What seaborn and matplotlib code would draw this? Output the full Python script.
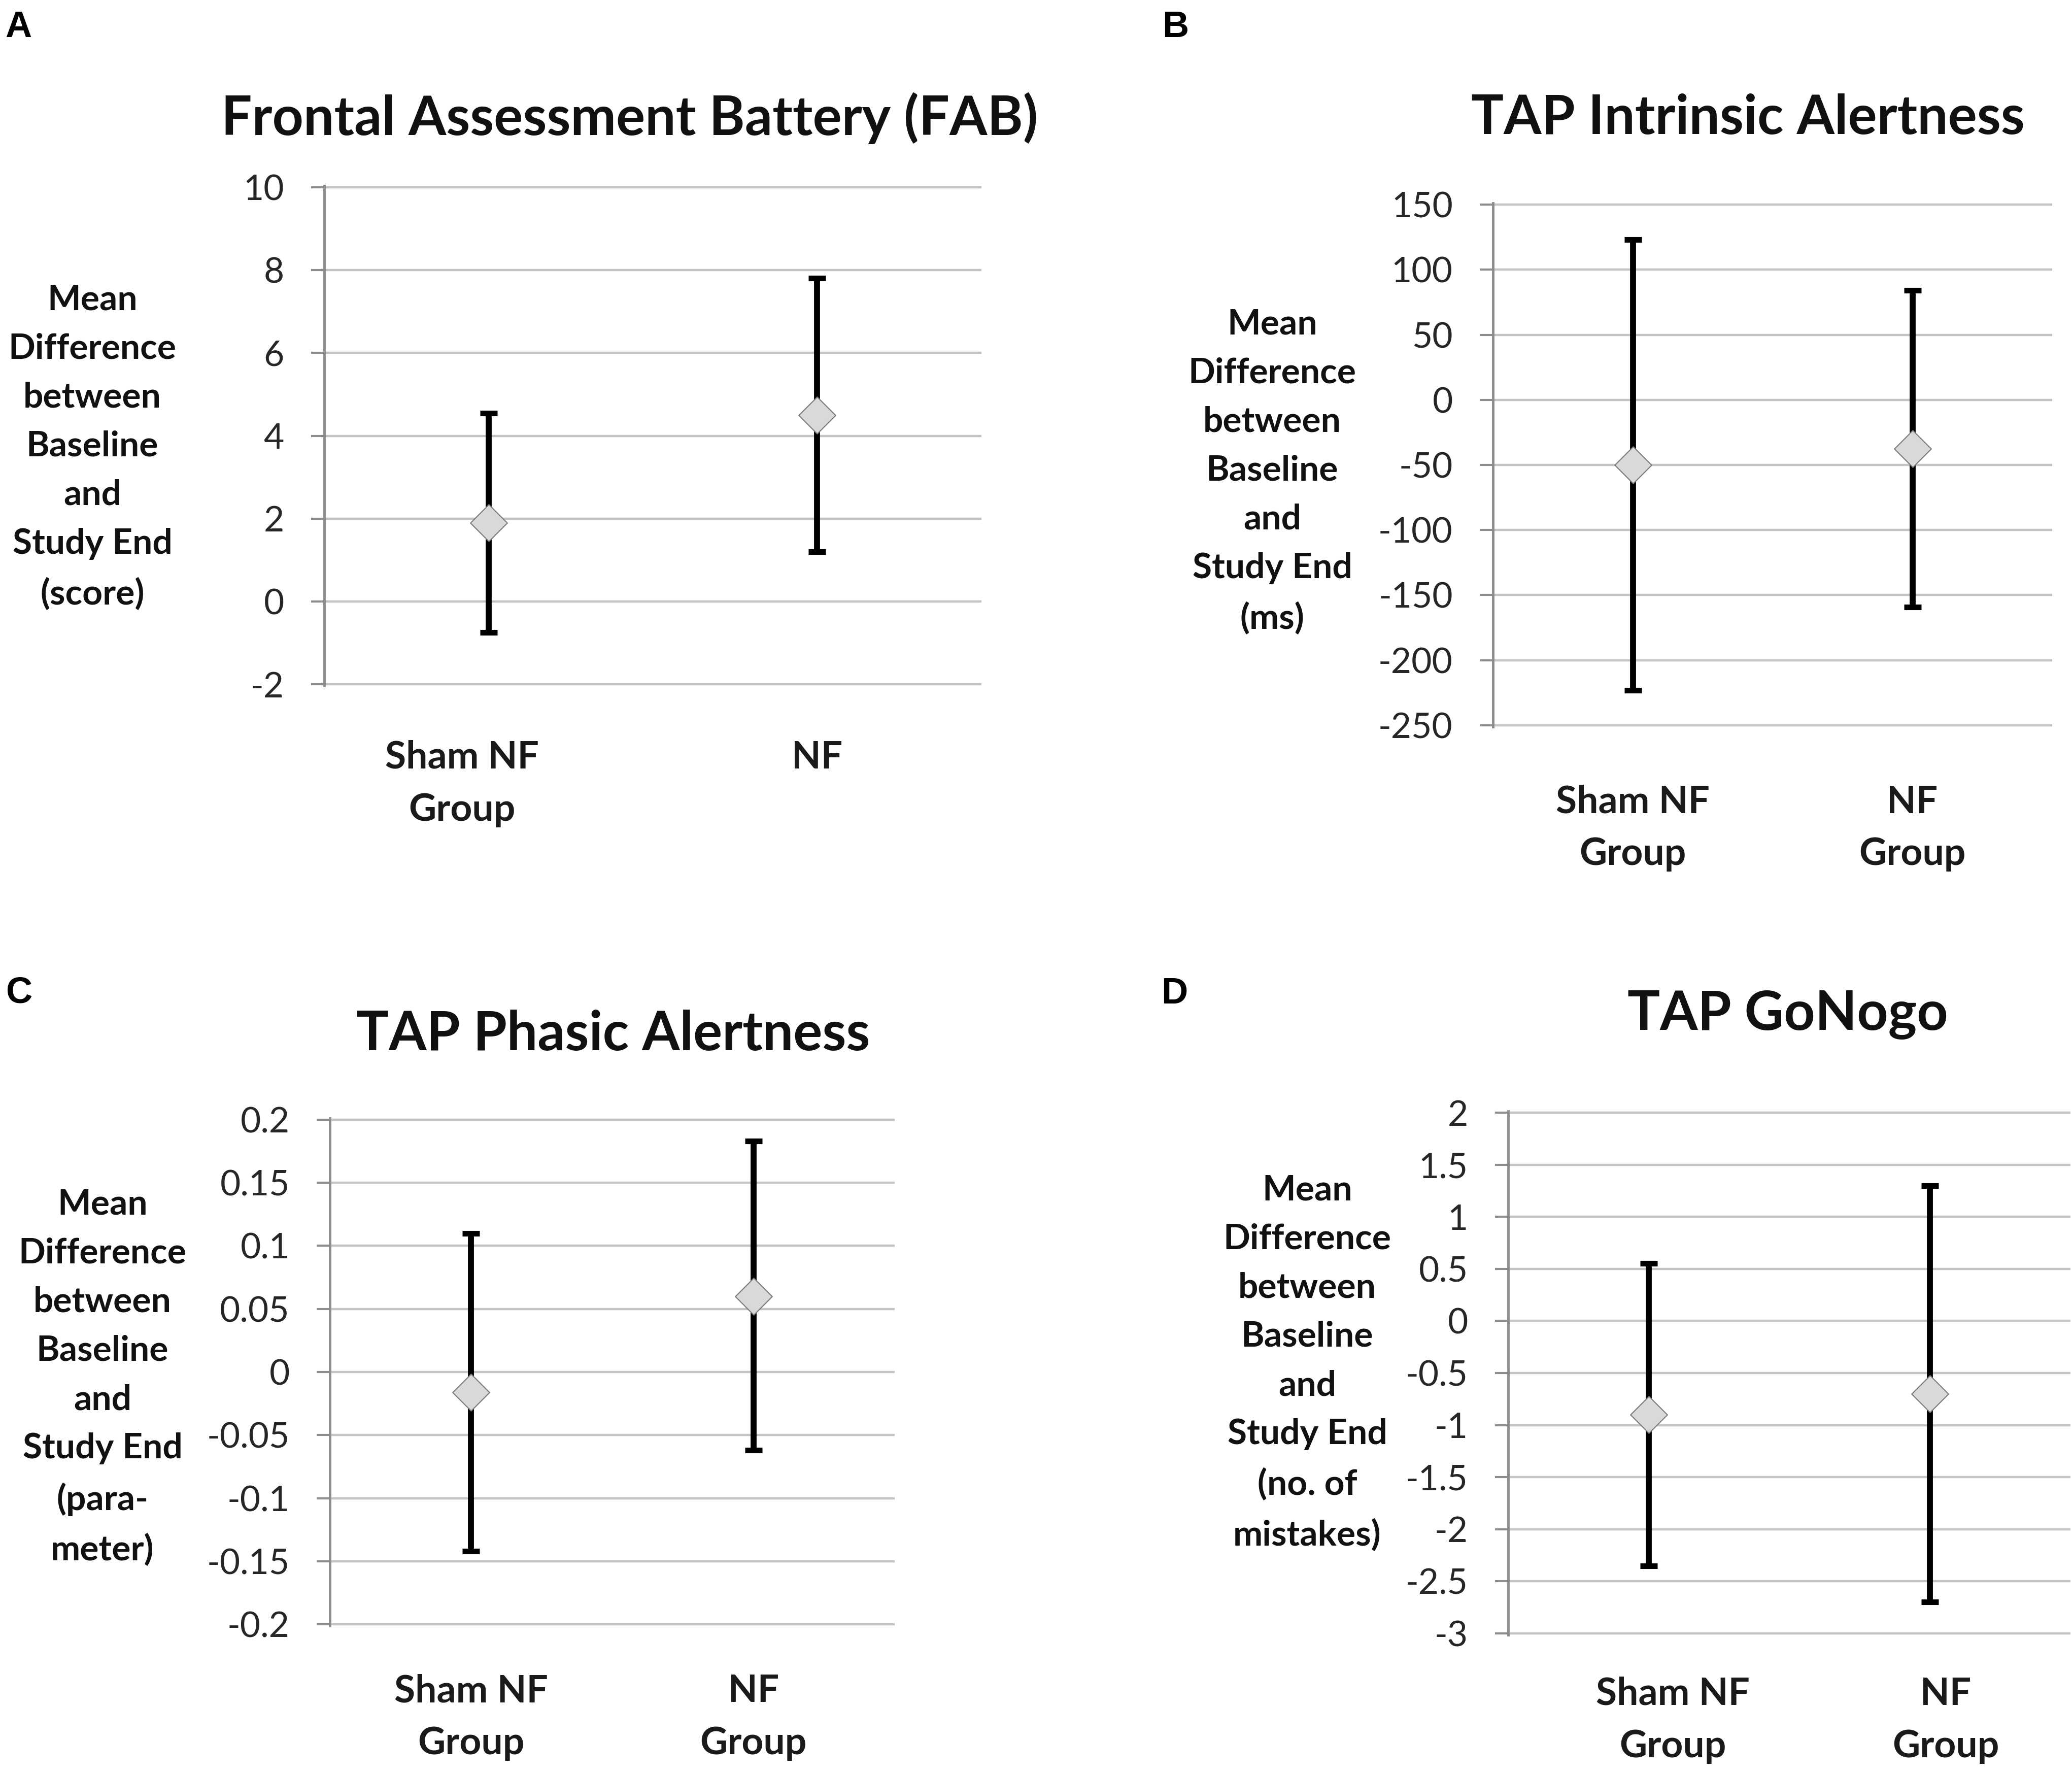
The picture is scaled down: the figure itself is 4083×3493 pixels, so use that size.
import numpy as np
import pandas as pd
import matplotlib
matplotlib.use('Agg')
import matplotlib.pyplot as plt
import seaborn as sns

sns.set_theme(style='white')
plt.rcParams['font.family'] = ['Lato', 'DejaVu Sans']
plt.rcParams['axes.unicode_minus'] = False

# data: mean difference and error-bar ends
groups_a = ['Sham NF\nGroup', 'NF']
means_a = [1.9, 4.5]
upper_a = [4.55, 7.8]
lower_a = [-0.75, 1.2]
yticks_a = [-2, 0, 2, 4, 6, 8, 10]
ylabels_a = ['-2', '0', '2', '4', '6', '8', '10']

groups_b = ['Sham NF\nGroup', 'NF\nGroup']
means_b = [-50, -37.5]
upper_b = [123, 84]
lower_b = [-223, -159]
yticks_b = [-250, -200, -150, -100, -50, 0, 50, 100, 150]
ylabels_b = ['-250', '-200', '-150', '-100', '-50', '0', '50', '100', '150']

groups_c = ['Sham NF\nGroup', 'NF\nGroup']
means_c = [-0.016, 0.06]
upper_c = [0.11, 0.183]
lower_c = [-0.142, -0.062]
yticks_c = [-0.2, -0.15, -0.1, -0.05, 0, 0.05, 0.1, 0.15, 0.2]
ylabels_c = ['-0.2', '-0.15', '-0.1', '-0.05', '0', '0.05', '0.1', '0.15', '0.2']

groups_d = ['Sham NF\nGroup', 'NF\nGroup']
means_d = [-0.9, -0.7]
upper_d = [0.555, 1.3]
lower_d = [-2.35, -2.7]
yticks_d = [-3, -2.5, -2, -1.5, -1, -0.5, 0, 0.5, 1, 1.5, 2]
ylabels_d = ['-3', '-2.5', '-2', '-1.5', '-1', '-0.5', '0', '0.5', '1', '1.5', '2']

W, H = 4083, 3493
fig = plt.figure(figsize=(W / 100, H / 100), dpi=100)

def px(x0, y0, x1, y1):
    # pixel box -> figure rect
    return [x0 / W, 1 - y1 / H, (x1 - x0) / W, (y1 - y0) / H]

panels = [
    dict(letter='A', lpos=(10, 73), box=(639, 366, 1934, 1351),
         title='Frontal Assessment Battery (FAB)', tpos=(1241, 266),
         ylab='Mean\nDifference\nbetween\nBaseline\nand\nStudy End\n(score)', ypos=(182, 881),
         groups=groups_a, means=means_a, upper=upper_a, lower=lower_a,
         yticks=yticks_a, ylabels=ylabels_a, xpad=77, xshift=[-52, 0]),
    dict(letter='B', lpos=(2290, 73), box=(2942, 400, 4044, 1432),
         title='TAP Intrinsic Alertness', tpos=(3444, 264),
         ylab='Mean\nDifference\nbetween\nBaseline\nand\nStudy End\n(ms)', ypos=(2507, 929),
         groups=groups_b, means=means_b, upper=upper_b, lower=lower_b,
         yticks=yticks_b, ylabels=ylabels_b, xpad=82, xshift=[0, 0]),
    dict(letter='C', lpos=(12, 1976), box=(650, 2203, 1763, 3203),
         title='TAP Phasic Alertness', tpos=(1208, 2069),
         ylab='Mean\nDifference\nbetween\nBaseline\nand\nStudy End\n(para-\nmeter)', ypos=(202, 2714),
         groups=groups_c, means=means_c, upper=upper_c, lower=lower_c,
         yticks=yticks_c, ylabels=ylabels_c, xpad=68, xshift=[0, 0]),
    dict(letter='D', lpos=(2288, 1977), box=(2972, 2189, 4080, 3221),
         title='TAP GoNogo', tpos=(3523, 2029),
         ylab='Mean\nDifference\nbetween\nBaseline\nand\nStudy End\n(no. of\nmistakes)', ypos=(2576, 2685),
         groups=groups_d, means=means_d, upper=upper_d, lower=lower_d,
         yticks=yticks_d, ylabels=ylabels_d, xpad=59, xshift=[47, 31]),
]

for p in panels:
    ax = fig.add_axes(px(*p['box']))
    df = pd.DataFrame({'group': p['groups'], 'mean': p['means'],
                       'upper': p['upper'], 'lower': p['lower']})
    xs = np.arange(len(df))
    yerr = [df['mean'] - df['lower'], df['upper'] - df['mean']]
    ax.errorbar(xs, df['mean'], yerr=yerr, fmt='none', ecolor='black',
                elinewidth=8.5, capsize=12, capthick=8, zorder=3)
    sns.scatterplot(data=df, x=xs, y='mean', marker='D', s=37 ** 2,
                    color='#d9d9d9', edgecolor='#7a7a7a', linewidth=1.5,
                    zorder=4, ax=ax, legend=False)
    lo, hi = p['yticks'][0], p['yticks'][-1]
    m = (hi - lo) * 0.003
    ax.set_ylim(lo - m, hi + m)
    ax.set_xlim(-0.5, 1.5)
    ax.set_yticks(p['yticks'])
    ax.set_yticklabels(p['ylabels'], fontsize=50, color='#262626')
    # category labels sit slightly off the marker in some panels
    unit_px = (p['box'][2] - p['box'][0]) / 2
    ax.set_xticks(xs + np.array(p['xshift']) / unit_px)
    ax.set_xticklabels(p['groups'], fontsize=54, fontweight='bold',
                       color='#1a1a1a', linespacing=1.6)
    ax.tick_params(axis='x', length=0, pad=p['xpad'])
    ax.tick_params(axis='y', direction='out', length=19, width=3, color='#8c8c8c',
                   pad=38, left=True)
    ax.yaxis.grid(True, color='#c4c4c4', linewidth=3.2)
    ax.set_axisbelow(True)
    for s in ['top', 'right', 'bottom']:
        ax.spines[s].set_visible(False)
    ax.spines['left'].set_color('#8c8c8c')
    ax.spines['left'].set_linewidth(3.5)
    ax.set_xlabel('')
    ax.set_ylabel('')

    fig.text(p['tpos'][0] / W, 1 - p['tpos'][1] / H, p['title'], ha='center',
             va='baseline', fontsize=77, fontweight='bold', color='#111111')
    fig.text(p['ypos'][0] / W, 1 - p['ypos'][1] / H, p['ylab'], ha='center',
             va='center', fontsize=50, fontweight='bold', color='#111111',
             linespacing=1.65, multialignment='center')
    fig.text(p['lpos'][0] / W, 1 - p['lpos'][1] / H, p['letter'], ha='left',
             va='baseline', fontsize=52, fontweight='bold', color='black',
             family=['Liberation Sans', 'DejaVu Sans'])

fig.savefig('out.png', dpi=100, facecolor='white')
